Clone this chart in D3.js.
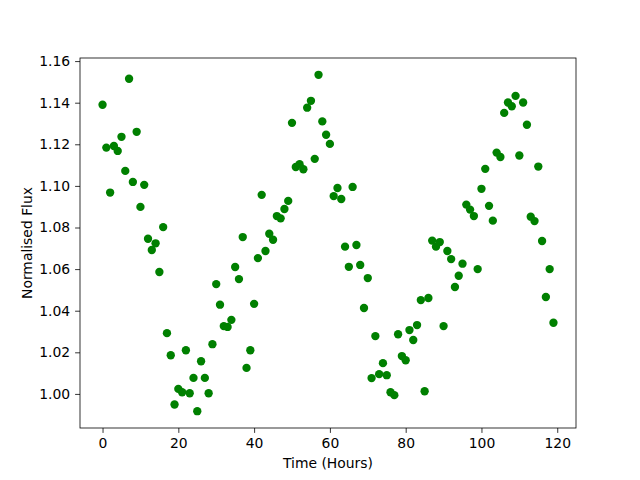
<!DOCTYPE html>
<html>
<head>
<meta charset="utf-8">
<script src="https://cdn.jsdelivr.net/npm/d3@7"></script>
<style>
  body { margin: 0; background: #fff; }
  svg { font-family: "DejaVu Sans", sans-serif; }
</style>
</head>
<body>
<script>
// hours 0..119, one reading each
var hours = d3.range(0, 120);
var flux = [
  1.1390, 1.1184, 1.0968, 1.1192, 1.1168, 1.1236, 1.1072, 1.1515, 1.1019, 1.1260,
  1.0899, 1.1005, 1.0746, 1.0692, 1.0724, 1.0586, 1.0802, 1.0292, 1.0186, 0.9949,
  1.0024, 1.0008, 1.0210, 1.0003, 1.0077, 0.9917, 1.0157, 1.0077, 1.0003, 1.0239,
  1.0528, 1.0429, 1.0326, 1.0322, 1.0356, 1.0610, 1.0552, 1.0754, 1.0125, 1.0210,
  1.0433, 1.0653, 1.0957, 1.0687, 1.0770, 1.0741, 1.0855, 1.0844, 1.0889, 1.0928,
  1.1303, 1.1091, 1.1104, 1.1080, 1.1376, 1.1409, 1.1130, 1.1534, 1.1310, 1.1246,
  1.1202, 1.0951, 1.0990, 1.0937, 1.0708, 1.0611, 1.0995, 1.0716, 1.0620, 1.0413,
  1.0557, 1.0076, 1.0278, 1.0095, 1.0148, 1.0090, 1.0008, 0.9994, 1.0287, 1.0182,
  1.0162, 1.0307, 1.0259, 1.0331, 1.0451, 1.0013, 1.0461, 1.0737, 1.0708, 1.0730,
  1.0326, 1.0687, 1.0648, 1.0514, 1.0568, 1.0626, 1.0910, 1.0886, 1.0855, 1.0600,
  1.0986, 1.1082, 1.0904, 1.0833, 1.1160, 1.1139, 1.1351, 1.1401, 1.1383, 1.1433,
  1.1146, 1.1401, 1.1294, 1.0852, 1.0831, 1.1093, 1.0735, 1.0466, 1.0600, 1.0342
];
var xTicks = [0, 20, 40, 60, 80, 100, 120];
var yTicks = [1.00, 1.02, 1.04, 1.06, 1.08, 1.10, 1.12, 1.14, 1.16];

var margin = {top: 58, right: 64, bottom: 52, left: 80},
    width = 640 - margin.left - margin.right,
    height = 480 - margin.top - margin.bottom;

var svg = d3.select("body")
  .append("svg")
    .attr("width", 640)
    .attr("height", 480)
  .append("g")
    .attr("transform", "translate(" + margin.left + "," + margin.top + ")");

// matplotlib style 5% padding
var xPad = (d3.max(hours) - d3.min(hours)) * 0.05;
var x = d3.scaleLinear()
  .domain([d3.min(hours) - xPad, d3.max(hours) + xPad])
  .range([0, width]);
var yPad = (d3.max(flux) - d3.min(flux)) * 0.05;
var y = d3.scaleLinear()
  .domain([d3.min(flux) - yPad, d3.max(flux) + yPad])
  .range([height, 0]);

var xAxis = svg.append("g")
  .attr("transform", "translate(0," + height + ")")
  .call(d3.axisBottom(x).tickValues(xTicks).tickSize(4.9).tickPadding(4.9).tickSizeOuter(0));
var yAxis = svg.append("g")
  .call(d3.axisLeft(y).tickValues(yTicks).tickFormat(d3.format(".2f")).tickSize(4.9).tickPadding(4.9).tickSizeOuter(0));

[xAxis, yAxis].forEach(function(a) {
  a.select(".domain").remove();
  a.selectAll("line").attr("stroke", "#000").attr("stroke-width", 0.8);
  a.selectAll("text").attr("fill", "#000").style("font-size", "13.9px")
    .style("font-family", "'DejaVu Sans', sans-serif");
});

// frame
svg.append("rect")
  .attr("width", width)
  .attr("height", height)
  .attr("fill", "none")
  .attr("stroke", "#000")
  .attr("stroke-width", 0.8);

svg.append("g")
  .selectAll("circle")
  .data(hours)
  .enter()
  .append("circle")
    .attr("cx", function(d) { return x(d); })
    .attr("cy", function(d, i) { return y(flux[i]); })
    .attr("r", 4.17)
    .style("fill", "#008000");

svg.append("text")
  .attr("x", width / 2)
  .attr("y", height + 40)
  .style("text-anchor", "middle")
  .style("font-size", "13.9px")
  .text("Time (Hours)");

svg.append("text")
  .attr("transform", "translate(" + (31.5 - margin.left) + "," + (height / 2) + ") rotate(-90)")
  .style("text-anchor", "middle")
  .style("font-size", "13.9px")
  .text("Normalised Flux");
</script>
</body>
</html>
